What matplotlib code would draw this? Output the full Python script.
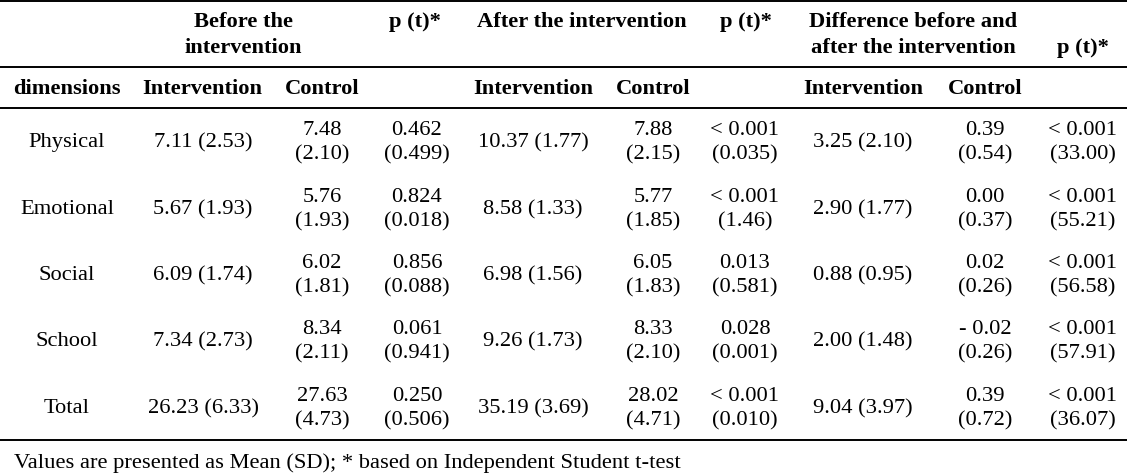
import matplotlib.pyplot as plt

# table data
dimensions = ["Physical", "Emotional", "Social", "School", "Total"]

before_int = ["7.11 (2.53)", "5.67 (1.93)", "6.09 (1.74)", "7.34 (2.73)", "26.23 (6.33)"]
before_ctl = ["7.48\n(2.10)", "5.76\n(1.93)", "6.02\n(1.81)", "8.34\n(2.11)", "27.63\n(4.73)"]
before_p = ["0.462\n(0.499)", "0.824\n(0.018)", "0.856\n(0.088)", "0.061\n(0.941)", "0.250\n(0.506)"]

after_int = ["10.37 (1.77)", "8.58 (1.33)", "6.98 (1.56)", "9.26 (1.73)", "35.19 (3.69)"]
after_ctl = ["7.88\n(2.15)", "5.77\n(1.85)", "6.05\n(1.83)", "8.33\n(2.10)", "28.02\n(4.71)"]
after_p = ["< 0.001\n(0.035)", "< 0.001\n(1.46)", "0.013\n(0.581)", "0.028\n(0.001)", "< 0.001\n(0.010)"]

diff_int = ["3.25 (2.10)", "2.90 (1.77)", "0.88 (0.95)", "2.00 (1.48)", "9.04 (3.97)"]
diff_ctl = ["0.39\n(0.54)", "0.00\n(0.37)", "0.02\n(0.26)", "- 0.02\n(0.26)", "0.39\n(0.72)"]
diff_p = ["< 0.001\n(33.00)", "< 0.001\n(55.21)", "< 0.001\n(56.58)", "< 0.001\n(57.91)", "< 0.001\n(36.07)"]

footnote = "Values are presented as Mean (SD); * based on Independent Student t-test"

plt.rcParams['font.family'] = ['Liberation Serif', 'DejaVu Serif']

W, H = 1127, 477
fig = plt.figure(figsize=(W / 100, H / 100), dpi=100)
ax = fig.add_axes([0, 0, 1, 1])
ax.set_xlim(0, W)
ax.set_ylim(H, 0)
ax.axis('off')

fs = 16.2

# horizontal rules
for y in [1.5, 68, 109, 441]:
    ax.plot([0, W], [y, y], color='black', lw=1.4, solid_capstyle='butt')

# group headers
ax.text(243, 35, "Before the\nintervention", ha='center', va='center', fontsize=fs,
        fontweight='bold', linespacing=1.4)
ax.text(415, 22, "p (t)*", ha='center', va='center', fontsize=fs, fontweight='bold')
ax.text(582, 22, "After the intervention", ha='center', va='center', fontsize=fs, fontweight='bold')
ax.text(746, 22, "p (t)*", ha='center', va='center', fontsize=fs, fontweight='bold')
ax.text(913, 35, "Difference before and\nafter the intervention", ha='center', va='center',
        fontsize=fs, fontweight='bold', linespacing=1.4)
ax.text(1083, 48, "p (t)*", ha='center', va='center', fontsize=fs, fontweight='bold')

# sub headers
ax.text(67, 89, "dimensions", ha='center', va='center', fontsize=fs, fontweight='bold')
for x, lab in [(202, "Intervention"), (322, "Control"), (533, "Intervention"),
               (653, "Control"), (863, "Intervention"), (985, "Control")]:
    ax.text(x, 89, lab, ha='center', va='center', fontsize=fs, fontweight='bold')

# body
cols = [(67, dimensions), (203, before_int), (322, before_ctl), (417, before_p),
        (533, after_int), (653, after_ctl), (745, after_p),
        (863, diff_int), (985, diff_ctl), (1083, diff_p)]
row_y = [143, 210, 276, 342, 409]
for x, vals in cols:
    for y, v in zip(row_y, vals):
        ax.text(x, y, v, ha='center', va='center', fontsize=fs, linespacing=1.35)

ax.text(14, 463, footnote, ha='left', va='center', fontsize=fs)

fig.savefig("out.png", dpi=100)
